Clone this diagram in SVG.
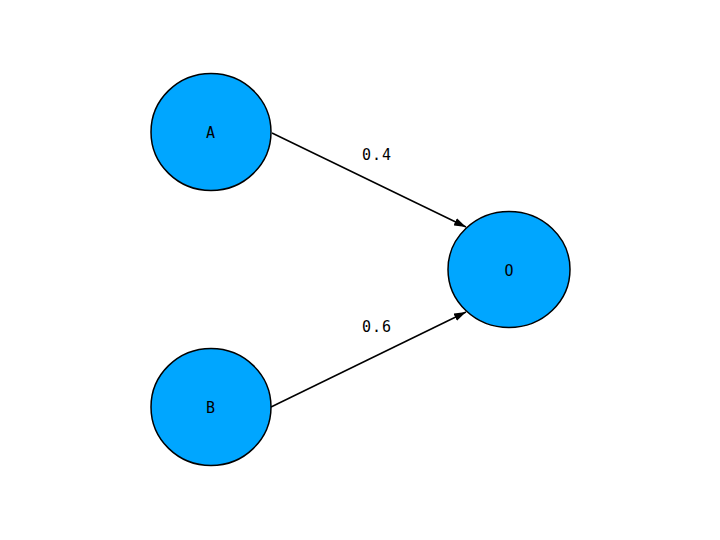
<svg xmlns="http://www.w3.org/2000/svg" width="720" height="540" viewBox="0 0 720 540">
<style>
.node{fill:#00a6ff;stroke:#000;stroke-width:1.5}
.lbl{font-family:"DejaVu Sans Mono","Liberation Mono",monospace;font-size:15px;fill:#000;text-anchor:middle;dominant-baseline:central}
.elbl{font-family:"DejaVu Sans Mono","Liberation Mono",monospace;font-size:15px;letter-spacing:1px;fill:#000;text-anchor:middle;dominant-baseline:central}
.edge{stroke:#000;stroke-width:1.5;fill:none;marker-end:url(#arr)}
</style>
<defs>
<marker id="arr" viewBox="0 0 12 8" refX="12" refY="4" markerWidth="12" markerHeight="8" orient="auto" markerUnits="userSpaceOnUse">
<path d="M0,0 L12,4 L0,8 z" fill="#000"/>
</marker>
</defs>
<rect width="720" height="540" fill="#fff"/>
<g id="connectors">
<line class="edge" x1="272" y1="133" x2="466" y2="227"/>
<line class="edge" x1="271" y1="407" x2="466" y2="312"/>
<text class="elbl" x="377" y="154.5">0.4</text>
<text class="elbl" x="377" y="326.5">0.6</text>
</g>
<g id="A">
<ellipse class="node" cx="211" cy="132" rx="60" ry="58.5"/>
<text class="lbl" x="210.5" y="133">A</text>
</g>
<g id="B">
<ellipse class="node" cx="211" cy="407" rx="60" ry="58.5"/>
<text class="lbl" x="210.5" y="408">B</text>
</g>
<g id="O">
<ellipse class="node" cx="509" cy="269.5" rx="61" ry="58"/>
<text class="lbl" x="509" y="271">O</text>
</g>
</svg>
